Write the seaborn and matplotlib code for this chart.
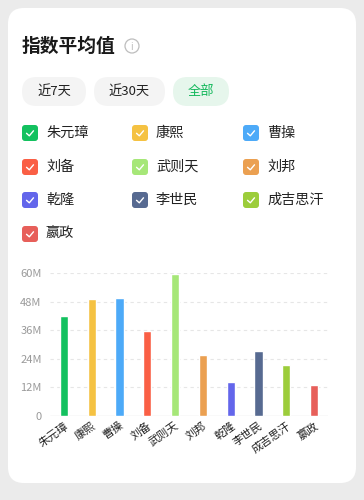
import matplotlib
matplotlib.use("Agg")
import matplotlib.pyplot as plt
from matplotlib.patches import FancyBboxPatch, Circle
from matplotlib.lines import Line2D
from matplotlib.transforms import Affine2D
import seaborn as sns
import pandas as pd

# ---- data ----
names = ["朱元璋", "康熙", "曹操", "刘备", "武则天", "刘邦", "乾隆", "李世民", "成吉思汗", "嬴政"]
values_m = [42.2, 49.1, 49.6, 35.6, 59.6, 25.8, 14.4, 27.2, 21.3, 13.0]
colors = ["#13C15F", "#F5C242", "#4DAAF8", "#FA5F45", "#A6E778",
          "#EBA051", "#6366EB", "#576A91", "#9CCD3B", "#E75F5A"]
y_ticks = [0, 12, 24, 36, 48, 60]
y_tick_labels = ["0", "12M", "24M", "36M", "48M", "60M"]
title = "指数平均值"
buttons = ["近7天", "近30天", "全部"]

sns.set_theme(style="white")
plt.rcParams["font.family"] = ["Noto Sans CJK SC", "DejaVu Sans"]

W, H = 364, 500
fig = plt.figure(figsize=(W / 100, H / 100), dpi=100)
fig.patch.set_facecolor("#ebebeb")

# pixel transform (y down)
px = Affine2D().scale(1, -1).translate(0, H)

# card
card = FancyBboxPatch((8, 8), 348, 475, boxstyle="round,pad=0,rounding_size=16",
                      transform=px, facecolor="white", edgecolor="none", zorder=0)
fig.add_artist(card)

# title
fig.text(22, 46, title, transform=px, fontsize=13.5, fontweight="bold",
         color="#1a1a1a", va="center", ha="left")
info = Circle((132, 46), 7, transform=px, facecolor="none", edgecolor="#bdbdbd", lw=0.9)
fig.add_artist(info)
fig.text(132, 46.5, "i", transform=px, fontsize=7, color="#bdbdbd", va="center", ha="center")

# buttons
btn_geo = [(22, 86), (94, 165), (173, 229)]
for (x0, x1), lab in zip(btn_geo, buttons):
    active = lab == "全部"
    fc = "#e6f6ec" if active else "#f4f4f4"
    tc = "#13B85B" if active else "#222222"
    b = FancyBboxPatch((x0, 77), x1 - x0, 29, boxstyle="round,pad=0,rounding_size=14.5",
                       transform=px, facecolor=fc, edgecolor="none")
    fig.add_artist(b)
    fig.text((x0 + x1) / 2, 91.5, lab, transform=px, fontsize=9.5, color=tc,
             va="center", ha="center")

# legend (checkbox style)
col_x = [22, 132, 243]
row_y = [133, 167, 200, 234]
for i, (nm, c) in enumerate(zip(names, colors)):
    r, cidx = divmod(i, 3)
    bx, cy = col_x[cidx], row_y[r]
    box = FancyBboxPatch((bx, cy - 8), 16, 16, boxstyle="round,pad=0,rounding_size=3",
                         transform=px, facecolor=c, edgecolor="none")
    fig.add_artist(box)
    chk = Line2D([bx + 4.5, bx + 7.3, bx + 11.5], [cy + 0.3, cy + 2.8, cy - 2.2],
                 transform=px, color="white", lw=1.0, solid_capstyle="round")
    fig.add_artist(chk)
    fig.text(bx + 24, cy, nm, transform=px, fontsize=10.2, color="#222222",
             va="center", ha="left")

# chart axes
left, right = 50 / W, 328 / W
bottom, top = 1 - 416 / H, 1 - 273.3 / H
ax = fig.add_axes([left, bottom, right - left, top - bottom])
ax.set_facecolor("none")

df = pd.DataFrame({"name": names, "value": values_m})
sns.barplot(data=df, x="name", y="value", hue="name", palette=colors,
            width=0.3, legend=False, ax=ax, saturation=1)
ax.set_ylim(0, 60)
ax.set_xlim(-0.5, len(names) - 0.5)
for p in ax.patches:
    p.set_clip_on(False)

ax.set_yticks(y_ticks)
ax.set_yticklabels(y_tick_labels, fontsize=8, color="#9a9a9a")
for yv in y_ticks[1:]:
    ax.axhline(yv, color="#e6e6e6", lw=0.8, ls=(0, (3, 3)), zorder=0)
ax.axhline(0, color="#e3e3e3", lw=1, zorder=0)
for s in ax.spines.values():
    s.set_visible(False)
ax.tick_params(axis="y", length=0, pad=6)
ax.tick_params(axis="x", length=0, pad=3)
ax.set_xticks(range(len(names)))
ax.set_xticklabels(names, rotation=35, ha="right", rotation_mode="anchor",
                   fontsize=8, color="#222222")
ax.set_xlabel("")
ax.set_ylabel("")

fig.savefig("out.png", dpi=100, facecolor=fig.get_facecolor())
